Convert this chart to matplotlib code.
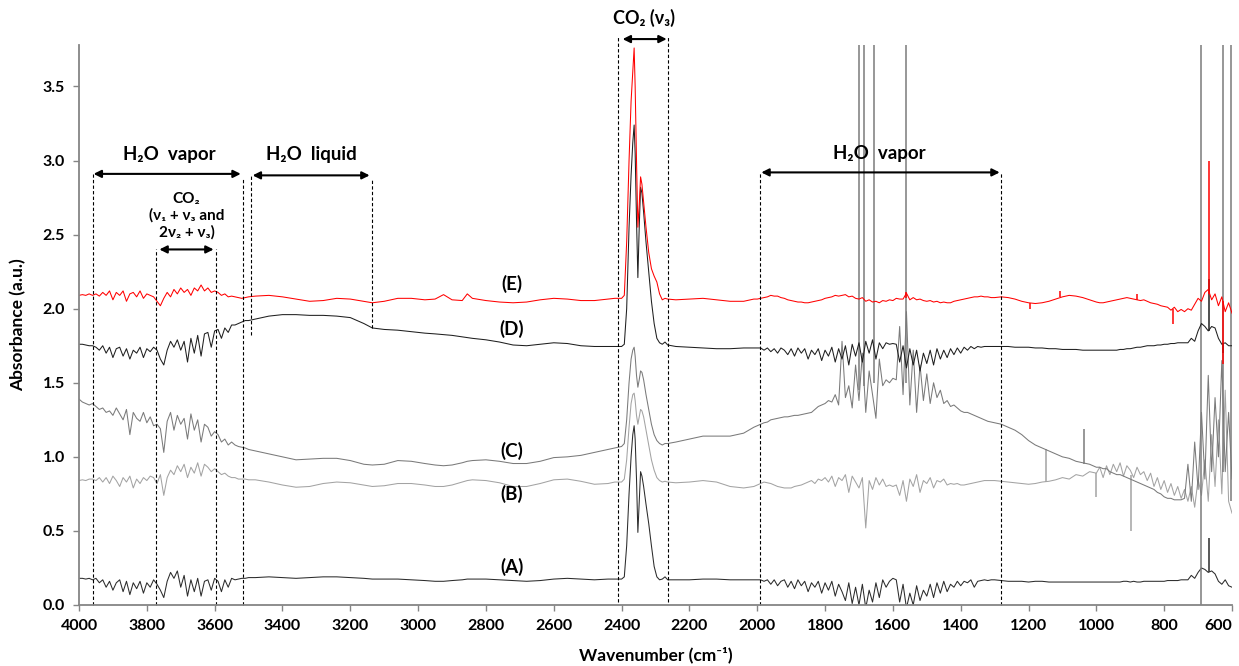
import matplotlib
matplotlib.use("Agg")
import matplotlib.pyplot as plt

# wavenumber grids (cm-1) shared by the five spectra
wn_oh = [4000, 3990, 3980, 3970, 3960, 3950, 3940, 3930, 3920, 3910,
         3900, 3890, 3880, 3870, 3860, 3850, 3840, 3830, 3820, 3810,
         3800, 3790, 3780, 3770, 3760, 3750, 3740, 3730, 3720, 3710,
         3700, 3690, 3680, 3670, 3660, 3650, 3640, 3630, 3620, 3610,
         3600, 3590, 3580, 3570, 3560, 3550, 3540, 3530, 3520, 3510,
         3500]
wn_mid = [3480, 3440, 3400, 3360, 3320, 3280, 3240, 3200, 3160, 3135,
          3100, 3060, 3020, 2980, 2950, 2925, 2900, 2870, 2855, 2840,
          2800, 2760, 2720, 2680, 2640, 2600, 2560, 2520, 2480, 2440,
          2420]
wn_co2 = [2400, 2392, 2385, 2378, 2372, 2367, 2363, 2360, 2356, 2352,
          2348, 2344, 2340, 2335, 2328, 2320, 2312, 2304, 2296, 2288,
          2280, 2272, 2264]
wn_gap = [2240, 2200, 2160, 2120, 2080, 2040, 2010]
wn_bend = [2000, 1990, 1980, 1970, 1960, 1950, 1940, 1930, 1920, 1910,
           1900, 1890, 1880, 1870, 1860, 1850, 1840, 1830, 1820, 1810,
           1800, 1790, 1780, 1770, 1760, 1750, 1740, 1730, 1720, 1710,
           1700, 1690, 1680, 1670, 1660, 1650, 1640, 1630, 1620, 1610,
           1600, 1590, 1580, 1570, 1560, 1550, 1540, 1530, 1520, 1510,
           1500, 1490, 1480, 1470, 1460, 1450, 1440, 1430, 1420, 1410,
           1400, 1390, 1380, 1370, 1360, 1350, 1340, 1330, 1320, 1310,
           1300]
wn_low = [1280, 1260, 1240, 1220, 1200, 1180, 1160, 1140, 1120, 1100,
          1080, 1060, 1040, 1020, 1000, 990, 980, 970, 960, 950,
          940, 930, 920, 910, 900, 890, 880, 870, 860, 850,
          840, 830, 820, 810, 800, 790, 780, 770, 760, 750,
          740, 730, 720, 710, 700, 690, 680, 670, 660, 650,
          640, 630, 620, 610, 600]

# (A)
A_oh = [0.18, 0.18, 0.175, 0.18, 0.17, 0.18, 0.15, 0.17, 0.12, 0.16,
        0.10, 0.15, 0.17, 0.09, 0.16, 0.07, 0.15, 0.11, 0.16, 0.08,
        0.15, 0.12, 0.17, 0.14, 0.10, 0.05, 0.16, 0.22, 0.18, 0.23,
        0.12, 0.20, 0.06, 0.17, 0.09, 0.18, 0.06, 0.16, 0.17, 0.10,
        0.18, 0.16, 0.09, 0.17, 0.12, 0.18, 0.17, 0.175, 0.18, 0.18,
        0.185]
A_mid = [0.185, 0.19, 0.185, 0.18, 0.185, 0.19, 0.19, 0.185, 0.18, 0.175,
         0.175, 0.175, 0.17, 0.165, 0.16, 0.16, 0.165, 0.17, 0.175, 0.175,
         0.175, 0.17, 0.165, 0.16, 0.165, 0.175, 0.18, 0.175, 0.17, 0.175,
         0.175]
A_co2 = [0.175, 0.19, 0.40, 0.75, 1.00, 1.15, 1.21, 1.12, 0.85, 0.49,
         0.70, 0.90, 0.87, 0.80, 0.68, 0.55, 0.40, 0.26, 0.19, 0.17,
         0.175, 0.19, 0.17]
A_gap = [0.17, 0.17, 0.175, 0.175, 0.17, 0.17, 0.17]
A_bend = [0.17, 0.17, 0.16, 0.17, 0.14, 0.17, 0.13, 0.16, 0.17, 0.12,
          0.16, 0.11, 0.17, 0.13, 0.16, 0.09, 0.15, 0.12, 0.16, 0.08,
          0.15, 0.10, 0.16, 0.06, 0.14, 0.09, 0.03, 0.15, 0.01, 0.12,
          0.00, 0.14, -0.02, 0.10, 0.02, 0.15, 0.05, 0.17, 0.12, 0.16,
          0.18, 0.17, 0.02, 0.14, -0.02, 0.08, 0.00, 0.13, 0.03, 0.10,
          0.06, 0.14, 0.05, 0.15, 0.08, 0.16, 0.09, 0.14, 0.12, 0.16,
          0.13, 0.16, 0.15, 0.17, 0.12, 0.16, 0.165, 0.17, 0.165, 0.17,
          0.17]
A_low = [0.165, 0.16, 0.16, 0.16, 0.155, 0.16, 0.16, 0.155, 0.155, 0.155,
         0.155, 0.155, 0.155, 0.155, 0.155, 0.155, 0.155, 0.155, 0.155, 0.155,
         0.155, 0.155, 0.16, 0.16, 0.155, 0.16, 0.155, 0.155, 0.16, 0.16,
         0.16, 0.16, 0.16, 0.16, 0.16, 0.165, 0.165, 0.165, 0.165, 0.17,
         0.17, 0.17, 0.20, 0.18, 0.22, 0.25, 0.24, 0.22, 0.23, 0.21,
         0.16, 0.14, 0.17, 0.13, 0.12]

# (B)
B_oh = [0.84, 0.845, 0.84, 0.85, 0.85, 0.84, 0.86, 0.83, 0.86, 0.82,
        0.87, 0.84, 0.80, 0.86, 0.83, 0.87, 0.79, 0.85, 0.82, 0.86,
        0.84, 0.87, 0.86, 0.82, 0.88, 0.74, 0.86, 0.91, 0.88, 0.94,
        0.90, 0.95, 0.86, 0.93, 0.89, 0.96, 0.87, 0.95, 0.93, 0.90,
        0.92, 0.90, 0.88, 0.89, 0.87, 0.86, 0.86, 0.85, 0.85, 0.85,
        0.845]
B_mid = [0.845, 0.83, 0.81, 0.795, 0.80, 0.82, 0.83, 0.825, 0.81, 0.80,
         0.805, 0.82, 0.82, 0.81, 0.80, 0.80, 0.81, 0.83, 0.84, 0.845,
         0.84, 0.825, 0.80, 0.80, 0.82, 0.845, 0.85, 0.835, 0.815, 0.82,
         0.83]
B_co2 = [0.83, 0.85, 0.98, 1.20, 1.36, 1.42, 1.43, 1.38, 1.28, 1.22,
         1.27, 1.32, 1.31, 1.27, 1.18, 1.08, 0.98, 0.91, 0.86, 0.84,
         0.83, 0.835, 0.83]
B_gap = [0.825, 0.83, 0.84, 0.83, 0.80, 0.79, 0.80]
B_bend = [0.81, 0.82, 0.83, 0.825, 0.82, 0.81, 0.80, 0.795, 0.79, 0.79,
          0.79, 0.80, 0.805, 0.81, 0.82, 0.83, 0.84, 0.82, 0.85, 0.84,
          0.86, 0.83, 0.87, 0.80, 0.86, 0.84, 0.88, 0.76, 0.87, 0.83,
          0.79, 0.86, 0.52, 0.84, 0.78, 0.86, 0.81, 0.85, 0.80, 0.81,
          0.80, 0.81, 0.74, 0.84, 0.70, 0.85, 0.80, 0.88, 0.76, 0.84,
          0.82, 0.86, 0.79, 0.84, 0.83, 0.85, 0.81, 0.82, 0.815, 0.82,
          0.81, 0.81, 0.815, 0.82, 0.825, 0.83, 0.835, 0.84, 0.84, 0.84,
          0.84]
B_low = [0.835, 0.83, 0.825, 0.82, 0.815, 0.82, 0.83, 0.835, 0.845, 0.86,
         0.85, 0.88, 0.87, 0.90, 0.89, 0.93, 0.86, 0.94, 0.88, 0.95,
         0.90, 0.96, 0.87, 0.94, 0.91, 0.86, 0.93, 0.88, 0.90, 0.84,
         0.89, 0.80, 0.86, 0.78, 0.84, 0.76, 0.82, 0.74, 0.80, 0.72,
         0.78, 0.70, 0.80, 0.66, 0.85, 0.74, 0.98, 0.70, 1.15, 0.80,
         1.25, 0.75, 1.45, 0.70, 0.62]

# (C)
C_oh = [1.39, 1.37, 1.36, 1.35, 1.36, 1.34, 1.32, 1.33, 1.30, 1.31,
        1.28, 1.33, 1.29, 1.25, 1.32, 1.15, 1.30, 1.26, 1.24, 1.30,
        1.23, 1.27, 1.21, 1.22, 1.19, 1.03, 1.24, 1.30, 1.18, 1.28,
        1.22, 1.26, 1.12, 1.29, 1.18, 1.25, 1.10, 1.22, 1.20, 1.14,
        1.17, 1.15, 1.10, 1.12, 1.08, 1.10, 1.08, 1.07, 1.065, 1.06,
        1.05]
C_mid = [1.04, 1.02, 1.00, 0.98, 0.985, 0.99, 0.99, 0.975, 0.95, 0.945,
         0.95, 0.975, 0.97, 0.955, 0.945, 0.94, 0.945, 0.96, 0.97, 0.975,
         0.98, 0.97, 0.955, 0.955, 0.97, 0.995, 1.00, 1.01, 1.03, 1.05,
         1.06]
C_co2 = [1.07, 1.09, 1.25, 1.50, 1.66, 1.72, 1.74, 1.68, 1.55, 1.47,
         1.52, 1.58, 1.57, 1.52, 1.42, 1.32, 1.22, 1.15, 1.11, 1.09,
         1.08, 1.09, 1.09]
C_gap = [1.10, 1.12, 1.14, 1.14, 1.14, 1.16, 1.20]
C_bend = [1.21, 1.22, 1.23, 1.235, 1.25, 1.255, 1.26, 1.265, 1.27, 1.27,
          1.275, 1.28, 1.28, 1.285, 1.29, 1.295, 1.30, 1.32, 1.34, 1.35,
          1.36, 1.38, 1.37, 1.42, 1.35, 1.78, 1.40, 1.48, 1.33, 1.62,
          1.38, 1.70, 1.30, 1.58, 1.42, 1.26, 1.66, 1.48, 1.52, 1.50,
          1.53, 1.52, 1.88, 1.42, 1.98, 1.35, 1.72, 1.30, 1.62, 1.38,
          1.56, 1.36, 1.50, 1.40, 1.45, 1.36, 1.38, 1.34, 1.35, 1.33,
          1.31, 1.30, 1.30, 1.29, 1.28, 1.27, 1.26, 1.25, 1.24, 1.235,
          1.23]
C_low = [1.22, 1.20, 1.18, 1.15, 1.11, 1.08, 1.06, 1.04, 1.02, 1.00,
         0.99, 0.97, 0.96, 0.95, 0.93, 0.93, 0.92, 0.92, 0.90, 0.89,
         0.88, 0.88, 0.87, 0.86, 0.85, 0.84, 0.83, 0.82, 0.81, 0.80,
         0.79, 0.78, 0.76, 0.75, 0.73, 0.72, 0.72, 0.71, 0.71, 0.71,
         0.72, 0.95, 0.70, 1.10, 0.78, 1.30, 0.85, 1.55, 0.90, 1.40,
         1.00, 1.65, 0.90, 1.30, 0.85]

# (D)
D_oh = [1.76, 1.76, 1.755, 1.75, 1.75, 1.74, 1.72, 1.75, 1.70, 1.74,
        1.67, 1.73, 1.74, 1.68, 1.73, 1.66, 1.72, 1.70, 1.74, 1.67,
        1.73, 1.71, 1.74, 1.72, 1.66, 1.62, 1.72, 1.78, 1.74, 1.79,
        1.72, 1.78, 1.64, 1.80, 1.70, 1.82, 1.68, 1.83, 1.84, 1.74,
        1.85, 1.86, 1.80, 1.87, 1.84, 1.89, 1.89, 1.90, 1.91, 1.92,
        1.92]
D_mid = [1.93, 1.95, 1.96, 1.96, 1.955, 1.955, 1.95, 1.94, 1.90, 1.87,
         1.86, 1.855, 1.845, 1.835, 1.83, 1.825, 1.82, 1.81, 1.805, 1.80,
         1.79, 1.775, 1.755, 1.75, 1.76, 1.77, 1.765, 1.75, 1.745, 1.745,
         1.745]
D_co2 = [1.745, 1.76, 2.00, 2.55, 2.90, 3.12, 3.24, 3.05, 2.60, 2.21,
         2.55, 2.82, 2.78, 2.65, 2.45, 2.25, 2.05, 1.90, 1.80, 1.77,
         1.76, 1.775, 1.755]
D_gap = [1.745, 1.74, 1.735, 1.73, 1.73, 1.735, 1.735]
D_bend = [1.735, 1.735, 1.72, 1.735, 1.71, 1.73, 1.70, 1.735, 1.72, 1.69,
          1.73, 1.68, 1.735, 1.70, 1.73, 1.66, 1.72, 1.69, 1.73, 1.65,
          1.72, 1.68, 1.74, 1.64, 1.73, 1.66, 1.75, 1.62, 1.76, 1.68,
          1.77, 1.64, 1.78, 1.70, 1.79, 1.66, 1.77, 1.73, 1.77, 1.76,
          1.765, 1.76, 1.64, 1.75, 1.60, 1.73, 1.62, 1.72, 1.58, 1.70,
          1.63, 1.72, 1.62, 1.73, 1.66, 1.72, 1.67, 1.73, 1.69, 1.735,
          1.70, 1.74, 1.72, 1.745, 1.73, 1.745, 1.74, 1.745, 1.745, 1.745,
          1.745]
D_low = [1.745, 1.745, 1.74, 1.74, 1.74, 1.735, 1.735, 1.73, 1.73, 1.725,
         1.725, 1.725, 1.72, 1.72, 1.72, 1.72, 1.72, 1.72, 1.72, 1.72,
         1.72, 1.725, 1.725, 1.73, 1.73, 1.735, 1.74, 1.74, 1.745, 1.75,
         1.75, 1.75, 1.755, 1.755, 1.76, 1.76, 1.765, 1.765, 1.77, 1.77,
         1.77, 1.77, 1.80, 1.78, 1.85, 1.90, 1.88, 1.85, 1.88, 1.87,
         1.80, 1.76, 1.77, 1.75, 1.75]

# (E)
E_oh = [2.09, 2.095, 2.09, 2.10, 2.09, 2.10, 2.085, 2.11, 2.09, 2.12,
        2.06, 2.11, 2.09, 2.12, 2.05, 2.10, 2.11, 2.08, 2.12, 2.07,
        2.10, 2.09, 2.08, 2.05, 2.02, 2.07, 2.11, 2.08, 2.13, 2.10,
        2.14, 2.11, 2.13, 2.09, 2.14, 2.12, 2.16, 2.12, 2.14, 2.11,
        2.12, 2.11, 2.09, 2.10, 2.08, 2.085, 2.08, 2.075, 2.07, 2.075,
        2.08]
E_mid = [2.085, 2.09, 2.08, 2.065, 2.05, 2.055, 2.07, 2.065, 2.05, 2.04,
         2.05, 2.07, 2.07, 2.06, 2.065, 2.095, 2.06, 2.055, 2.10, 2.07,
         2.055, 2.045, 2.04, 2.045, 2.06, 2.07, 2.065, 2.055, 2.055, 2.065,
         2.07]
E_co2 = [2.07, 2.09, 2.45, 3.00, 3.40, 3.60, 3.76, 3.50, 3.00, 2.55,
         2.70, 2.89, 2.84, 2.72, 2.55, 2.38, 2.27, 2.22, 2.18, 2.10,
         2.06, 2.07, 2.065]
E_gap = [2.06, 2.065, 2.07, 2.06, 2.05, 2.05, 2.065]
E_bend = [2.065, 2.07, 2.075, 2.08, 2.09, 2.085, 2.085, 2.075, 2.07, 2.06,
          2.055, 2.05, 2.045, 2.045, 2.04, 2.04, 2.045, 2.05, 2.055, 2.06,
          2.07, 2.075, 2.08, 2.09, 2.085, 2.09, 2.095, 2.08, 2.085, 2.07,
          2.065, 2.075, 2.05, 2.06, 2.045, 2.05, 2.04, 2.055, 2.05, 2.06,
          2.055, 2.07, 2.065, 2.065, 2.105, 2.06, 2.075, 2.06, 2.065, 2.055,
          2.05, 2.055, 2.045, 2.05, 2.04, 2.045, 2.04, 2.04, 2.05, 2.055,
          2.06, 2.065, 2.07, 2.075, 2.08, 2.08, 2.085, 2.08, 2.08, 2.075,
          2.075]
E_low = [2.08, 2.075, 2.065, 2.05, 2.04, 2.035, 2.04, 2.05, 2.065, 2.08,
         2.09, 2.085, 2.075, 2.06, 2.045, 2.04, 2.04, 2.045, 2.05, 2.055,
         2.06, 2.065, 2.07, 2.075, 2.07, 2.065, 2.06, 2.055, 2.06, 2.05,
         2.04, 2.035, 2.03, 2.02, 2.015, 2.01, 1.99, 2.01, 1.98, 1.995,
         1.98, 2.00, 1.99, 2.03, 2.07, 2.05, 2.11, 2.13, 2.06, 2.10,
         2.02, 2.08, 1.98, 2.04, 1.97]

# single-channel spikes: wavenumber, lower end, upper end
A_spk_wn, A_spk_lo, A_spk_hi = [667], [0.22], [0.45]
B_spk_wn, B_spk_lo, B_spk_hi = [1148, 1000, 898], [0.83, 0.73, 0.50], [1.05, 0.89, 0.88]
C_spk_wn = [1701, 1686, 1657, 1562, 692, 627, 603, 1035]
C_spk_lo = [1.45, 1.48, 1.50, 1.50, -0.10, 0.90, 0.70, 0.95]
C_spk_hi = [4.00, 4.00, 4.00, 4.00, 4.00, 4.00, 4.00, 1.19]
D_spk_wn, D_spk_lo, D_spk_hi = [667, 627], [1.85, 1.70], [2.20, 1.77]
E_spk_wn = [667, 627, 1560, 1196, 1108, 881, 775]
E_spk_lo = [2.10, 1.63, 2.07, 2.00, 2.08, 2.06, 1.90]
E_spk_hi = [3.00, 2.05, 2.11, 2.04, 2.12, 2.10, 2.00]

series = [
    ("A", A_oh + A_mid + A_co2 + A_gap + A_bend + A_low, A_spk_wn, A_spk_lo, A_spk_hi, "#2b2b2b"),
    ("B", B_oh + B_mid + B_co2 + B_gap + B_bend + B_low, B_spk_wn, B_spk_lo, B_spk_hi, "#a3a3a3"),
    ("C", C_oh + C_mid + C_co2 + C_gap + C_bend + C_low, C_spk_wn, C_spk_lo, C_spk_hi, "#7a7a7a"),
    ("D", D_oh + D_mid + D_co2 + D_gap + D_bend + D_low, D_spk_wn, D_spk_lo, D_spk_hi, "#1f1f1f"),
    ("E", E_oh + E_mid + E_co2 + E_gap + E_bend + E_low, E_spk_wn, E_spk_lo, E_spk_hi, "#ff0000"),
]
wn = wn_oh + wn_mid + wn_co2 + wn_gap + wn_bend + wn_low

# curve labels (wavenumber, absorbance)
tag_wn = [2724, 2724, 2724, 2724, 2724]
tag_y = [0.26, 0.75, 1.04, 1.86, 2.17]

FONT = ["Lato", "DejaVu Sans"]
plt.rcParams["font.family"] = FONT
plt.rcParams["font.weight"] = "bold"

fig = plt.figure(figsize=(12.39, 6.66), dpi=100)
ax = fig.add_axes([79 / 1239, 1 - 605 / 666, 1153 / 1239, 560 / 666])

for name, vals, swn, slo, shi, col in series:
    ax.plot(wn, vals, color=col, lw=0.75)
    ax.vlines(swn, slo, shi, color=col, lw=1.1)

for name, x, y in zip("ABCDE", tag_wn, tag_y):
    ax.text(x, y, "(" + name + ")", ha="center", va="center", fontsize=13.5, fontweight="bold")

# dashed region markers: x, top, bottom
dash_x = [3960, 3515, 3494, 3135, 3772, 3596, 2412, 2262, 1993, 1280]
dash_top = [2.91, 2.88, 2.90, 2.88, 2.40, 2.40, 3.84, 3.84, 2.92, 2.92]
dash_bot = [0.0, 0.0, 1.82, 1.87, 0.0, 0.0, 0.02, 0.02, 0.0, 0.0]
for x, t, b in zip(dash_x, dash_top, dash_bot):
    ax.plot([x, x], [b, t], color="black", lw=0.8, ls=(0, (3, 2)), clip_on=False)

arrows = [(3957, 3523, 2.91), (3488, 3143, 2.90), (3763, 3603, 2.40),
          (2397, 2267, 3.82), (1988, 1285, 2.92)]
for x1, x2, y in arrows:
    ax.annotate("", xy=(x1, y), xytext=(x2, y),
                arrowprops=dict(arrowstyle="<|-|>", color="black", lw=1.5,
                                mutation_scale=11, shrinkA=0, shrinkB=0),
                annotation_clip=False)

ax.text(3733, 3.04, "H₂O  vapor", ha="center", va="center", fontsize=13.5, fontweight="bold")
ax.text(3315, 3.04, "H₂O  liquid", ha="center", va="center", fontsize=13.5, fontweight="bold")
ax.text(1639, 3.05, "H₂O  vapor", ha="center", va="center", fontsize=13.5, fontweight="bold")
ax.text(2333, 3.96, "CO₂ (ν₃)", ha="center", va="center", fontsize=13, fontweight="bold")
ax.text(3683, 2.63, "CO₂\n(ν₁ + ν₃ and\n2ν₂ + ν₃)", ha="center", va="center",
        fontsize=11, fontweight="bold", linespacing=1.2)

ax.set_xlim(4000, 600)
ax.set_ylim(0, 3.78)
xt = [4000, 3800, 3600, 3400, 3200, 3000, 2800, 2600, 2400, 2200,
      2000, 1800, 1600, 1400, 1200, 1000, 800, 600]
ax.set_xticks(xt)
ax.set_xticklabels([str(v) for v in xt])
ax.set_yticks([0.0, 0.5, 1.0, 1.5, 2.0, 2.5, 3.0, 3.5])
ax.set_yticklabels(["0.0", "0.5", "1.0", "1.5", "2.0", "2.5", "3.0", "3.5"])
for s in ["top", "right"]:
    ax.spines[s].set_visible(False)
for s in ["left", "bottom"]:
    ax.spines[s].set_color("#858585")
    ax.spines[s].set_linewidth(1.3)
ax.tick_params(axis="both", direction="out", length=4, width=1, color="#858585",
               labelsize=11.5, pad=6)
for lab in ax.get_xticklabels() + ax.get_yticklabels():
    lab.set_fontweight("bold")
ax.get_xticklabels()[-1].set_horizontalalignment("right")

ax.set_xlabel("Wavenumber (cm⁻¹)", fontsize=12.5, fontweight="bold")
ax.set_ylabel("Absorbance (a.u.)", fontsize=12.5, fontweight="bold")
ax.xaxis.label.set_va("center")
ax.yaxis.label.set_va("center")
ax.xaxis.set_label_coords(0.5, -0.089)
ax.yaxis.set_label_coords(-0.053, 0.5)

fig.savefig("out.png", dpi=100, facecolor="white")
